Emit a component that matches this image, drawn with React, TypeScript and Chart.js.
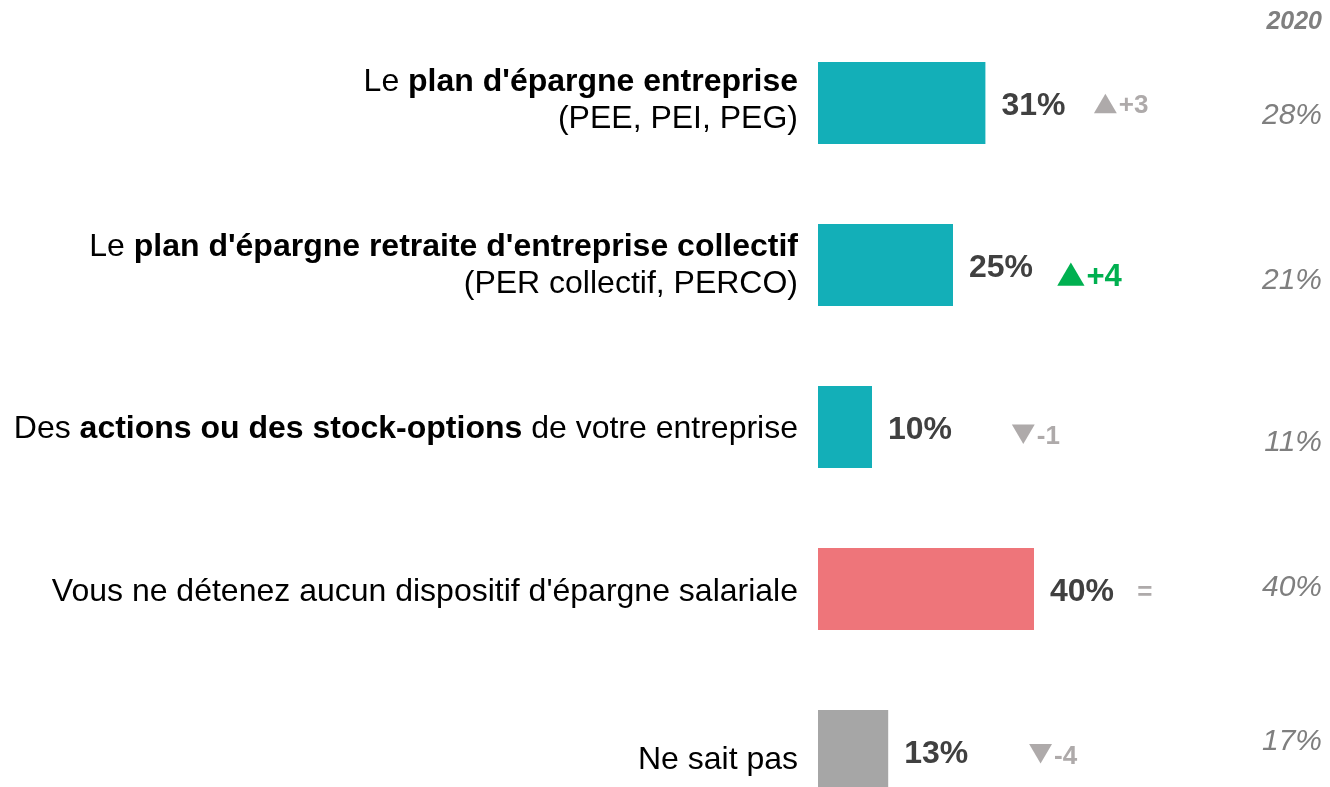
import React, { useEffect, useRef } from "react";
import { Chart, registerables } from "chart.js";

Chart.register(...registerables);

// ---- data ----
const categories: string[] = [
  "Le **plan d'épargne entreprise**\n(PEE, PEI, PEG)",
  "Le **plan d'épargne retraite d'entreprise collectif**\n(PER collectif, PERCO)",
  "Des **actions ou des stock-options** de votre entreprise",
  "Vous ne détenez aucun dispositif d'épargne salariale",
  "Ne sait pas",
];
const values2022: number[] = [31, 25, 10, 40, 13];
const values2020: number[] = [28, 21, 11, 40, 17];
const deltas: number[] = [3, 4, -1, 0, -4];
const significant: boolean[] = [false, true, false, false, false];
const headerLabel = "2020";

// ---- layout / style (not data) ----
const barColors = ["#13AFB8", "#13AFB8", "#13AFB8", "#EE757A", "#A6A6A6"];
const deltaPos = [51.1, 44.3, 35.9, 59.3, 39.1]; // in axis units
const deltaDy = [10.3, 20.9, 17.2, 11, 12.7];
const prevDy = [21.4, 24.3, 24, 6.9, -0.5];
const labelDy = [-11.9, -9.1, 11.3, 12, 18];
const LINE_H = 36.7;
const FONT_FAMILY = '"Liberation Sans", Arial, sans-serif';
const W = 1330;
const H = 850;
const PX_PER_UNIT = 5.4;
const LEFT = 818;

const font = (bold: boolean, italic: boolean, size: number) =>
  `${italic ? "italic " : ""}${bold ? "bold " : ""}${size}px ${FONT_FAMILY}`;

type Seg = { text: string; bold: boolean; w?: number };
const parseLine = (line: string): Seg[] => {
  const parts = line.split("**");
  return parts
    .map((t, i) => ({ text: t, bold: i % 2 === 1 }))
    .filter((s) => s.text.length > 0);
};

const annotPlugin = {
  id: "annot",
  afterDatasetsDraw(chart: any) {
    const ctx = chart.ctx as CanvasRenderingContext2D;
    const xs = chart.scales.x;
    const ys = chart.scales.y;
    const meta = chart.getDatasetMeta(0);
    const labelRight = chart.chartArea.left - 20;
    const prevRight = W - 8;
    ctx.save();
    ctx.textBaseline = "alphabetic";
    categories.forEach((cat, i) => {
      const cy = ys.getPixelForValue(i);
      // category label (rich text, right aligned)
      cat.split("\n").forEach((line, li) => {
        const segs = parseLine(line);
        let total = 0;
        segs.forEach((s) => {
          ctx.font = font(s.bold, false, 32);
          s.w = ctx.measureText(s.text).width;
          total += s.w;
        });
        let x = labelRight - total;
        const y = cy + labelDy[i] + li * LINE_H;
        ctx.textAlign = "left";
        ctx.fillStyle = "#000000";
        segs.forEach((s) => {
          ctx.font = font(s.bold, false, 32);
          ctx.fillText(s.text, x, y);
          x += s.w as number;
        });
      });
      // value label
      const bar = meta.data[i];
      ctx.textAlign = "left";
      ctx.font = font(true, false, 32);
      ctx.fillStyle = "#404040";
      ctx.fillText(values2022[i] + "%", bar.x + 16, cy + 12.5);
      // delta
      const d = deltas[i];
      const sig = significant[i];
      const color = sig ? "#00B050" : "#AEAAAA";
      const fs = sig ? 31 : 26;
      const dx = xs.getPixelForValue(deltaPos[i]);
      const base = cy + deltaDy[i];
      ctx.fillStyle = color;
      ctx.font = font(true, false, fs);
      if (d === 0) {
        ctx.fillText("=", dx - 1, base);
      } else {
        const tw = 0.88 * fs;
        const th = 0.75 * fs;
        ctx.beginPath();
        if (d > 0) {
          ctx.moveTo(dx, base);
          ctx.lineTo(dx + tw, base);
          ctx.lineTo(dx + tw / 2, base - th);
        } else {
          ctx.moveTo(dx, base - th);
          ctx.lineTo(dx + tw, base - th);
          ctx.lineTo(dx + tw / 2, base);
        }
        ctx.closePath();
        ctx.fill();
        const txt = d > 0 ? "+" + d : "-" + Math.abs(d);
        ctx.fillText(txt, dx + tw + 2, base);
      }
      // previous wave value
      ctx.textAlign = "right";
      ctx.font = font(false, true, 30);
      ctx.fillStyle = "#7F7F7F";
      ctx.fillText(values2020[i] + "%", prevRight, cy + prevDy[i]);
    });
    // header
    ctx.textAlign = "right";
    ctx.font = font(true, true, 25);
    ctx.fillStyle = "#7F7F7F";
    ctx.fillText(headerLabel, prevRight, 28.5);
    ctx.restore();
  },
};

export default function App() {
  const ref = useRef<HTMLCanvasElement | null>(null);
  useEffect(() => {
    if (!ref.current) return;
    const chart = new Chart(ref.current, {
      type: "bar",
      data: {
        labels: categories.map((c) => c.replace(/\*\*/g, "").replace("\n", " ")),
        datasets: [
          {
            data: values2022,
            backgroundColor: barColors,
            borderWidth: 0,
            barPercentage: 82 / 162,
            categoryPercentage: 1,
          },
        ],
      },
      options: {
        indexAxis: "y",
        responsive: false,
        animation: false,
        devicePixelRatio: 1,
        layout: {
          padding: { left: LEFT, right: 0, top: 21.9, bottom: H - 21.9 - 810 },
        },
        scales: {
          x: { display: false, min: 0, max: (W - LEFT) / PX_PER_UNIT },
          y: { display: false, offset: true },
        },
        plugins: {
          legend: { display: false },
          tooltip: { enabled: false },
          title: { display: false },
        },
      },
      plugins: [annotPlugin],
    });
    return () => chart.destroy();
  }, []);
  return (
    <div
      style={{
        position: "absolute",
        left: 0,
        top: 0,
        width: W,
        height: 787,
        overflow: "hidden",
        background: "#ffffff",
      }}
    >
      <canvas ref={ref} width={W} height={H} style={{ display: "block" }} />
    </div>
  );
}
